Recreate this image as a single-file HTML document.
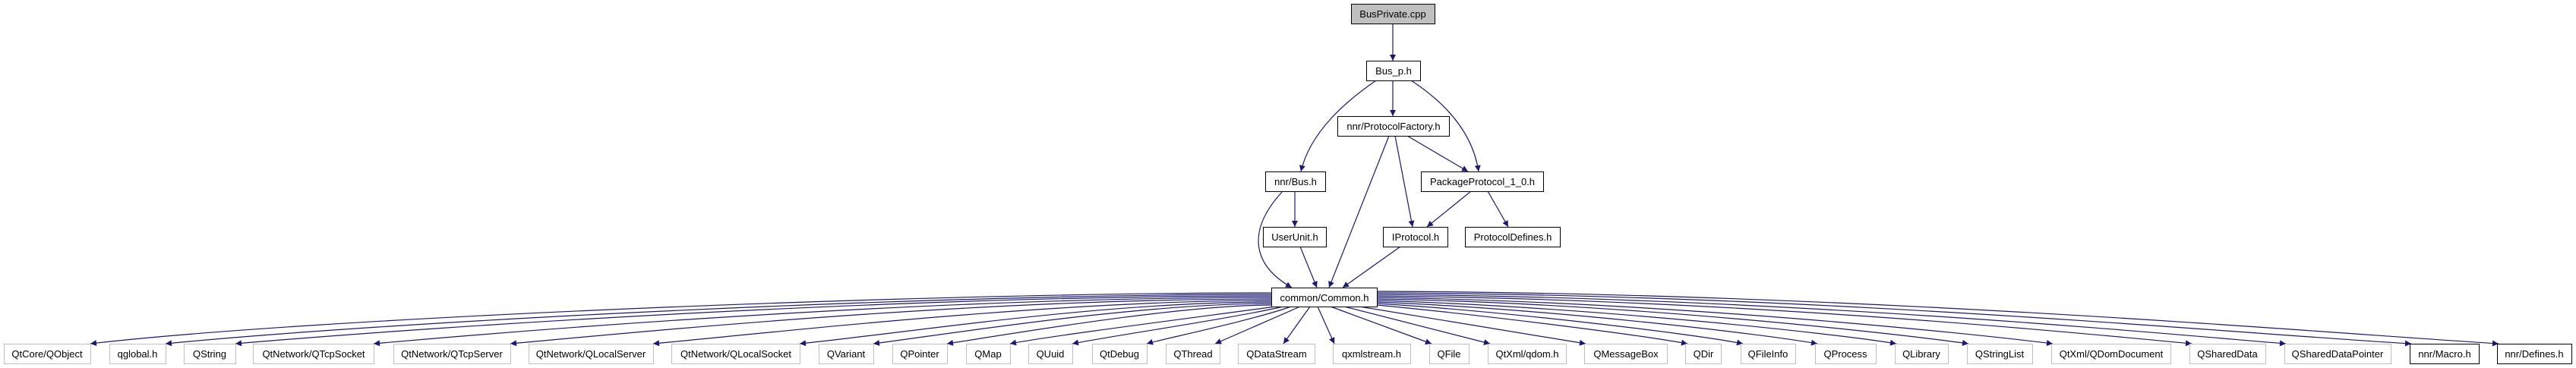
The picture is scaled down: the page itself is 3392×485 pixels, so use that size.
<!DOCTYPE html>
<html><head><meta charset="utf-8"><style>
html,body{margin:0;padding:0;background:#fff;}
svg{display:block}
text{font-family:"Liberation Sans",Arial,sans-serif;font-size:13px;fill:#000;text-anchor:middle}
.n{fill:#fff;stroke:#000;stroke-width:1}
.g{fill:#fff;stroke:#bfbfbf;stroke-width:1}
.e{fill:none;stroke:#191970;stroke-width:1.2}
</style></head><body>
<svg width="3392" height="485" viewBox="0 0 3392 485" xmlns="http://www.w3.org/2000/svg">
<defs><marker id="a" viewBox="0 0 10 10" refX="10" refY="5" markerWidth="10" markerHeight="8" markerUnits="userSpaceOnUse" orient="auto"><path d="M0,0 L10,5 L0,10 z" fill="#191970"/></marker></defs>
<g class="e" marker-end="url(#a)">
<path d="M1834 31 L1834 80"/>
<path d="M1834 106 L1834 153"/>
<path d="M1812 106 C1770 135,1725 175,1713 226"/>
<path d="M1858 106 C1910 140,1940 180,1947 226"/>
<path d="M1853 179 L1933 226"/>
<path d="M1837 179 L1860 299"/>
<path d="M1829 179 L1750 379"/>
<path d="M1937 252 L1879 299"/>
<path d="M1959 252 L1986 299"/>
<path d="M1705 252 L1705 299"/>
<path d="M1689 252 C1640 305,1650 350,1701 379"/>
<path d="M1712 325 L1734 379"/>
<path d="M1844 325 L1768 379"/>
<path d="M1674 386 C1200 386,400 420,119 453"/>
<path d="M1674 388 C1200 388,500 425,218 453"/>
<path d="M1674 390 C1200 390,600 428,310 453"/>
<path d="M1674 392 C1250 392,750 430,492 453"/>
<path d="M1674 394 C1300 394,900 432,672 453"/>
<path d="M1674 396 C1400 396,1050 435,860 453"/>
<path d="M1674 398 C1450 398,1200 438,1053 453"/>
<path d="M1674 400 C1500 400,1250 440,1150 453"/>
<path d="M1674 402 C1550 402,1320 442,1247 453"/>
<path d="M1680 404 C1600 415,1380 443,1330 453"/>
<path d="M1690 404 C1620 420,1450 445,1412 453"/>
<path d="M1700 404 C1650 422,1530 447,1510 453"/>
<path d="M1712 404 L1600 453"/>
<path d="M1725 404 L1690 453"/>
<path d="M1735 404 L1757 453"/>
<path d="M1752 404 L1885 453"/>
<path d="M1770 404 L1962 453"/>
<path d="M1790 404 L2088 453"/>
<path d="M1813 402 C1950 415,2150 440,2222 453"/>
<path d="M1813 400 C1980 410,2230 440,2295 453"/>
<path d="M1813 398 C2050 408,2320 440,2393 453"/>
<path d="M1813 396 C2100 405,2420 440,2497 453"/>
<path d="M1813 394 C2150 400,2500 440,2592 453"/>
<path d="M1813 392 C2200 398,2600 440,2703 453"/>
<path d="M1813 390 C2300 395,2750 440,2886 453"/>
<path d="M1813 388 C2350 392,2850 440,3010 453"/>
<path d="M1813 386 C2400 388,2950 440,3175 453"/>
<path d="M1813 384 C2450 386,3050 438,3290 453"/>
</g>
<rect x="1779.5" y="5.5" width="110" height="26" fill="#bfbfbf" stroke="#000"/><text x="1834" y="23">BusPrivate.cpp</text>
<rect class="n" x="1799.5" y="80.5" width="71" height="26"/><text x="1835" y="98">Bus_p.h</text>
<rect class="n" x="1761.5" y="153.5" width="147" height="26"/><text x="1835" y="171">nnr/ProtocolFactory.h</text>
<rect class="n" x="1666.5" y="226.5" width="79" height="26"/><text x="1706" y="244">nnr/Bus.h</text>
<rect class="n" x="1871.5" y="226.5" width="161" height="26"/><text x="1952" y="244">PackageProtocol_1_0.h</text>
<rect class="n" x="1663.5" y="299.5" width="83" height="26"/><text x="1705" y="317">UserUnit.h</text>
<rect class="n" x="1821.5" y="299.5" width="85" height="26"/><text x="1864" y="317">IProtocol.h</text>
<rect class="n" x="1929.5" y="299.5" width="125" height="26"/><text x="1992" y="317">ProtocolDefines.h</text>
<rect class="n" x="1674.5" y="379.5" width="139" height="25"/><text x="1744" y="397">common/Common.h</text>
<g>
<rect class="g" x="5.5" y="453.5" width="114" height="26"/><text x="62" y="471">QtCore/QObject</text>
<rect class="g" x="144.5" y="453.5" width="74" height="26"/><text x="181" y="471">qglobal.h</text>
<rect class="g" x="242.5" y="453.5" width="68" height="26"/><text x="276" y="471">QString</text>
<rect class="g" x="333.5" y="453.5" width="159" height="26"/><text x="413" y="471">QtNetwork/QTcpSocket</text>
<rect class="g" x="518.5" y="453.5" width="154" height="26"/><text x="595" y="471">QtNetwork/QTcpServer</text>
<rect class="g" x="696.5" y="453.5" width="164" height="26"/><text x="778" y="471">QtNetwork/QLocalServer</text>
<rect class="g" x="884.5" y="453.5" width="169" height="26"/><text x="969" y="471">QtNetwork/QLocalSocket</text>
<rect class="g" x="1078.5" y="453.5" width="72" height="26"/><text x="1114" y="471">QVariant</text>
<rect class="g" x="1175.5" y="453.5" width="72" height="26"/><text x="1211" y="471">QPointer</text>
<rect class="g" x="1272.5" y="453.5" width="58" height="26"/><text x="1301" y="471">QMap</text>
<rect class="g" x="1354.5" y="453.5" width="58" height="26"/><text x="1383" y="471">QUuid</text>
<rect class="g" x="1438.5" y="453.5" width="72" height="26"/><text x="1474" y="471">QtDebug</text>
<rect class="g" x="1535.5" y="453.5" width="71" height="26"/><text x="1571" y="471">QThread</text>
<rect class="g" x="1630.5" y="453.5" width="101" height="26"/><text x="1681" y="471">QDataStream</text>
<rect class="g" x="1755.5" y="453.5" width="102" height="26"/><text x="1806" y="471">qxmlstream.h</text>
<rect class="g" x="1882.5" y="453.5" width="52" height="26"/><text x="1908" y="471">QFile</text>
<rect class="g" x="1959.5" y="453.5" width="103" height="26"/><text x="2011" y="471">QtXml/qdom.h</text>
<rect class="g" x="2086.5" y="453.5" width="109" height="26"/><text x="2141" y="471">QMessageBox</text>
<rect class="g" x="2219.5" y="453.5" width="47" height="26"/><text x="2243" y="471">QDir</text>
<rect class="g" x="2292.5" y="453.5" width="72" height="26"/><text x="2328" y="471">QFileInfo</text>
<rect class="g" x="2390.5" y="453.5" width="80" height="26"/><text x="2430" y="471">QProcess</text>
<rect class="g" x="2495.5" y="453.5" width="70" height="26"/><text x="2530" y="471">QLibrary</text>
<rect class="g" x="2590.5" y="453.5" width="86" height="26"/><text x="2633" y="471">QStringList</text>
<rect class="g" x="2701.5" y="453.5" width="157" height="26"/><text x="2780" y="471">QtXml/QDomDocument</text>
<rect class="g" x="2883.5" y="453.5" width="100" height="26"/><text x="2933" y="471">QSharedData</text>
<rect class="g" x="3008.5" y="453.5" width="140" height="26"/><text x="3078" y="471">QSharedDataPointer</text>
<rect class="n" x="3173.5" y="453.5" width="91" height="26"/><text x="3219" y="471">nnr/Macro.h</text>
<rect class="n" x="3288.5" y="453.5" width="98" height="26"/><text x="3337" y="471">nnr/Defines.h</text>
</g>
</svg>
</body></html>
